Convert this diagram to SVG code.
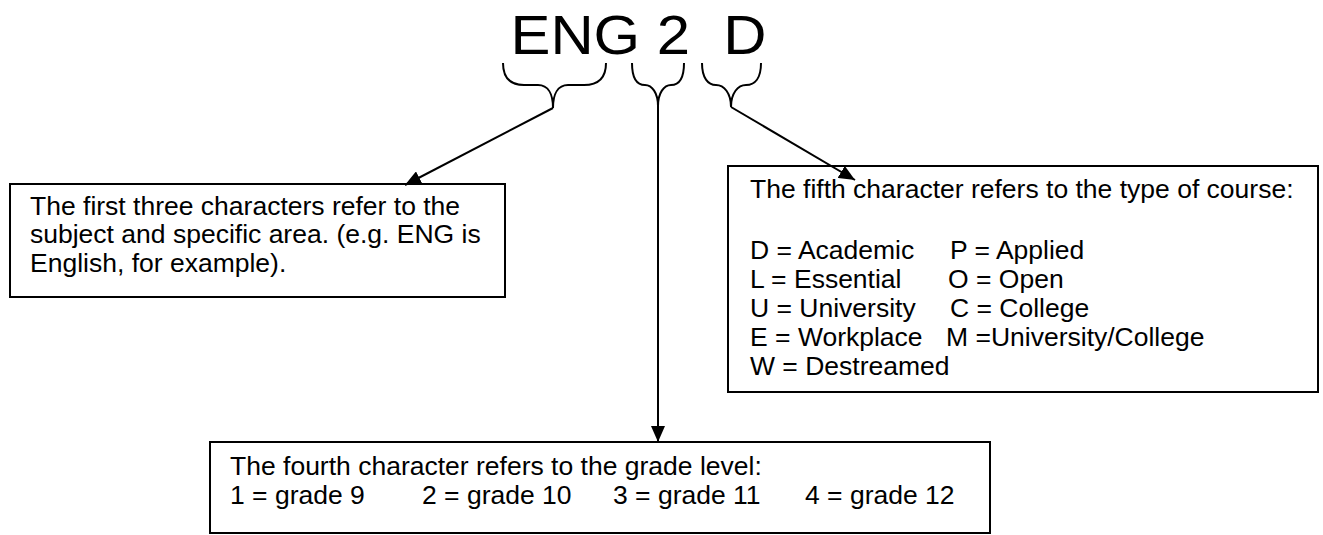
<svg xmlns="http://www.w3.org/2000/svg" width="1323" height="535" viewBox="0 0 1323 535">
  <style>
    .box { fill: #fff; stroke: #000; stroke-width: 2; }
    .txt { font-family: "Liberation Sans", Arial, sans-serif; font-size: 26.5px; fill: #000; }
    .title { font-family: "Liberation Sans", Arial, sans-serif; font-size: 55px; fill: #000; }
    .brace { fill: none; stroke: #000; stroke-width: 2; }
    .conn { fill: none; stroke: #000; stroke-width: 2; }
  </style>
  <defs>
    <marker id="arrow" viewBox="0 0 16 14" refX="16" refY="7" markerWidth="16" markerHeight="14" markerUnits="userSpaceOnUse" orient="auto">
      <path d="M0,0 L16,7 L0,14 Z" fill="#000"/>
    </marker>
  </defs>

  <!-- course code with braces under each part -->
  <g id="code">
    <text class="title" x="510.5" y="53.5" xml:space="preserve" textLength="256" lengthAdjust="spacingAndGlyphs">ENG 2  D</text>
    <path class="brace" d="M503,63 C503,78 510,85 524,85 L538,85 C548,85 553,94 553,108 C553,94 558,85 568,85 L584,85 C598,85 606,78 606,63"/>
    <path class="brace" d="M632,63 C632,78 637,85 645,85 C652,85 658,93 658,106 C658,93 664,85 671,85 C679,85 684,78 684,63"/>
    <path class="brace" d="M702,63 C702,78 708,85 716,85 C724,85 731,93 731,107 C731,93 738,85 746,85 C755,85 761,78 761,63"/>
  </g>

  <!-- subject box -->
  <g id="subject">
    <rect class="box" x="10" y="184" width="495" height="113"/>
    <text class="txt" x="30" y="215">The first three characters refer to the</text>
    <text class="txt" x="30" y="243">subject and specific area. (e.g. ENG is</text>
    <text class="txt" x="30" y="271.5">English, for example).</text>
  </g>

  <!-- course type box -->
  <g id="type">
    <rect class="box" x="728" y="166" width="590" height="226"/>
    <text class="txt" x="750" y="198">The fifth character refers to the type of course:</text>
    <text class="txt" y="259"><tspan x="750">D = Academic</tspan><tspan x="950">P = Applied</tspan></text>
    <text class="txt" y="288"><tspan x="750">L = Essential</tspan><tspan x="948">O = Open</tspan></text>
    <text class="txt" y="317"><tspan x="750">U = University</tspan><tspan x="950">C = College</tspan></text>
    <text class="txt" y="346"><tspan x="750">E = Workplace</tspan><tspan x="946">M =University/College</tspan></text>
    <text class="txt" x="750" y="375">W = Destreamed</text>
  </g>

  <!-- grade level box -->
  <g id="grade">
    <rect class="box" x="210" y="442" width="780" height="91"/>
    <text class="txt" x="230" y="475">The fourth character refers to the grade level:</text>
    <text class="txt" y="504"><tspan x="230">1 = grade 9</tspan><tspan x="422">2 = grade 10</tspan><tspan x="613">3 = grade 11</tspan><tspan x="805">4 = grade 12</tspan></text>
  </g>

  <!-- connectors from braces to boxes -->
  <g id="connectors">
    <path class="conn" d="M553,108 L405,185" marker-end="url(#arrow)"/>
    <path class="conn" d="M658,106 L658,442" marker-end="url(#arrow)"/>
    <path class="conn" d="M731,107 L855,180" marker-end="url(#arrow)"/>
  </g>
</svg>
